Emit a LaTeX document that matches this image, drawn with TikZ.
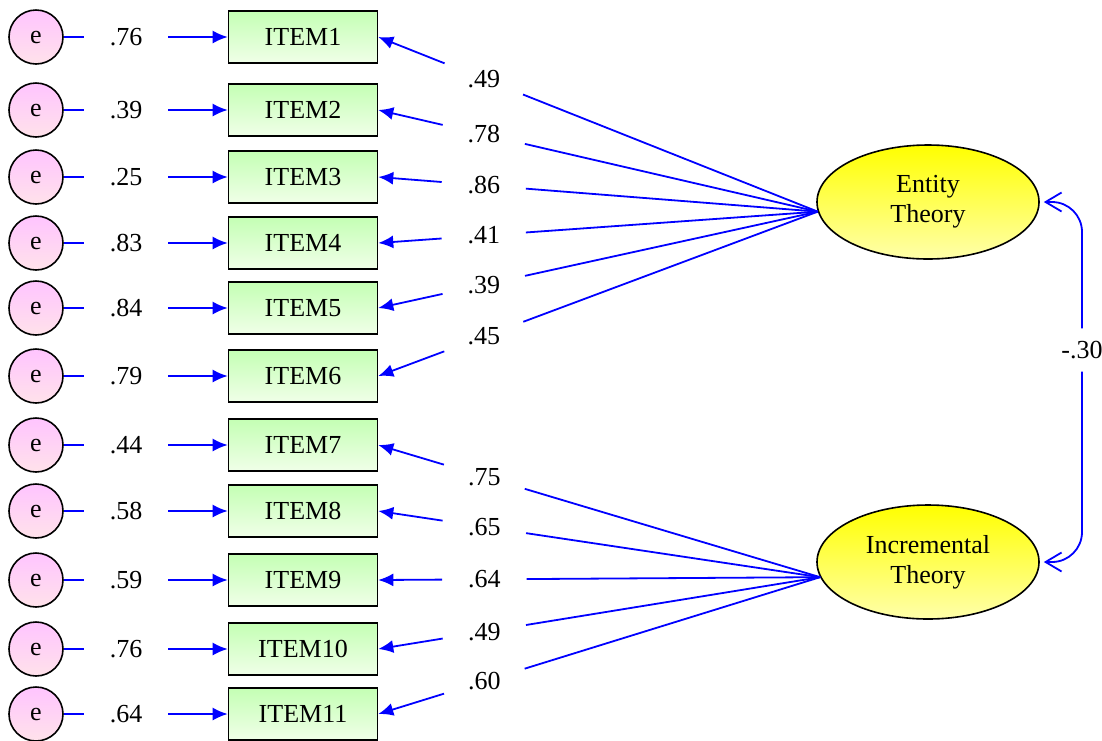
\documentclass[tikz,border=0pt]{standalone}
\usepackage{fontspec}
\setmainfont{Liberation Serif}
\usetikzlibrary{arrows.meta, shapes, calc}
\definecolor{itemtop}{RGB}{196,255,180}
\definecolor{itembot}{RGB}{240,255,232}
\definecolor{errtop}{RGB}{255,196,255}
\definecolor{errbot}{RGB}{255,226,234}
\definecolor{lattop}{RGB}{255,255,0}
\definecolor{latbot}{RGB}{255,255,170}

\begin{document}
\begin{tikzpicture}[x=1pt,y=1pt,font=\fontsize{26}{30}\selectfont,>={Latex[length=15pt,width=13pt]},
    item node/.style={rectangle,draw,line width=1.6pt,minimum width=149pt,minimum height=52pt,inner sep=0pt,top color=itemtop,bottom color=itembot},
    error node/.style={circle,draw,line width=1.6pt,minimum size=54pt,inner sep=0pt,top color=errtop,bottom color=errbot},
    latent node/.style={ellipse,draw,line width=1.6pt,minimum width=222pt,minimum height=114pt,inner sep=0pt,top color=lattop,bottom color=latbot,align=center},
    coef node/.style={circle,minimum size=84pt,inner sep=0pt},
    link/.style={color=blue,line width=1.8pt}]
        \useasboundingbox (0,0) rectangle (1102,-740);

        % error terms
        \node[error node] (e1) at (36,-37) {e};
        \node[error node] (e2) at (36,-110) {e};
        \node[error node] (e3) at (36,-177) {e};
        \node[error node] (e4) at (36,-243) {e};
        \node[error node] (e5) at (36,-308) {e};
        \node[error node] (e6) at (36,-376) {e};
        \node[error node] (e7) at (36,-445) {e};
        \node[error node] (e8) at (36,-511) {e};
        \node[error node] (e9) at (36,-580) {e};
        \node[error node] (e10) at (36,-649) {e};
        \node[error node] (e11) at (36,-714) {e};

        % items
        \node[item node] (i1) at (303,-37) {ITEM1};
        \node[item node] (i2) at (303,-110) {ITEM2};
        \node[item node] (i3) at (303,-177) {ITEM3};
        \node[item node] (i4) at (303,-243) {ITEM4};
        \node[item node] (i5) at (303,-308) {ITEM5};
        \node[item node] (i6) at (303,-376) {ITEM6};
        \node[item node] (i7) at (303,-445) {ITEM7};
        \node[item node] (i8) at (303,-511) {ITEM8};
        \node[item node] (i9) at (303,-580) {ITEM9};
        \node[item node] (i10) at (303,-649) {ITEM10};
        \node[item node] (i11) at (303,-714) {ITEM11};

        % error weights
        \node[coef node] (l1) at (126,-37) {.76};
        \node[coef node] (l2) at (126,-110) {.39};
        \node[coef node] (l3) at (126,-177) {.25};
        \node[coef node] (l4) at (126,-243) {.83};
        \node[coef node] (l5) at (126,-308) {.84};
        \node[coef node] (l6) at (126,-376) {.79};
        \node[coef node] (l7) at (126,-445) {.44};
        \node[coef node] (l8) at (126,-511) {.58};
        \node[coef node] (l9) at (126,-580) {.59};
        \node[coef node] (l10) at (126,-649) {.76};
        \node[coef node] (l11) at (126,-714) {.64};

        % factors
        \node[latent node] (ent) at (928,-202) {Entity\\Theory};
        \node[latent node] (inc) at (928,-562) {Incremental\\Theory};

        % loadings
        \node[coef node] (r1) at ($(ent.185)!0.76!(i1.east)$) {.49};
        \node[coef node] (r2) at ($(ent.185)!0.76!(i2.east)$) {.78};
        \node[coef node] (r3) at ($(ent.185)!0.76!(i3.east)$) {.86};
        \node[coef node] (r4) at ($(ent.185)!0.76!(i4.east)$) {.41};
        \node[coef node] (r5) at ($(ent.185)!0.76!(i5.east)$) {.39};
        \node[coef node] (r6) at ($(ent.185)!0.76!(i6.east)$) {.45};
        \node[coef node] (r7) at ($(inc.188)!0.76!(i7.east)$) {.75};
        \node[coef node] (r8) at ($(inc.188)!0.76!(i8.east)$) {.65};
        \node[coef node] (r9) at ($(inc.188)!0.76!(i9.east)$) {.64};
        \node[coef node] (r10) at ($(inc.188)!0.76!(i10.east)$) {.49};
        \node[coef node] (r11) at ($(inc.188)!0.76!(i11.east)$) {.60};

        \node[rectangle,minimum height=43pt,inner sep=0pt] (corr) at (1082,-350) {-.30};

        \path[link]
        (e1) edge (l1) (l1) edge[->] (i1)
        (e2) edge (l2) (l2) edge[->] (i2)
        (e3) edge (l3) (l3) edge[->] (i3)
        (e4) edge (l4) (l4) edge[->] (i4)
        (e5) edge (l5) (l5) edge[->] (i5)
        (e6) edge (l6) (l6) edge[->] (i6)
        (e7) edge (l7) (l7) edge[->] (i7)
        (e8) edge (l8) (l8) edge[->] (i8)
        (e9) edge (l9) (l9) edge[->] (i9)
        (e10) edge (l10) (l10) edge[->] (i10)
        (e11) edge (l11) (l11) edge[->] (i11);

        \path[link]
        (ent.185) edge (r1) (r1) edge[->] (i1.east)
        (ent.185) edge (r2) (r2) edge[->] (i2.east)
        (ent.185) edge (r3) (r3) edge[->] (i3.east)
        (ent.185) edge (r4) (r4) edge[->] (i4.east)
        (ent.185) edge (r5) (r5) edge[->] (i5.east)
        (ent.185) edge (r6) (r6) edge[->] (i6.east)
        (inc.188) edge (r7) (r7) edge[->] (i7.east)
        (inc.188) edge (r8) (r8) edge[->] (i8.east)
        (inc.188) edge (r9) (r9) edge[->] (i9.east)
        (inc.188) edge (r10) (r10) edge[->] (i10.east)
        (inc.188) edge (r11) (r11) edge[->] (i11.east);

        \draw[link,rounded corners=30pt,{Straight Barb[length=16pt,width=19pt]}-] ([xshift=4pt]ent.east) -| (corr);
        \draw[link,rounded corners=30pt,-{Straight Barb[length=16pt,width=19pt]}] (corr) |- ([xshift=4pt]inc.east);
    \end{tikzpicture}
\end{document}
